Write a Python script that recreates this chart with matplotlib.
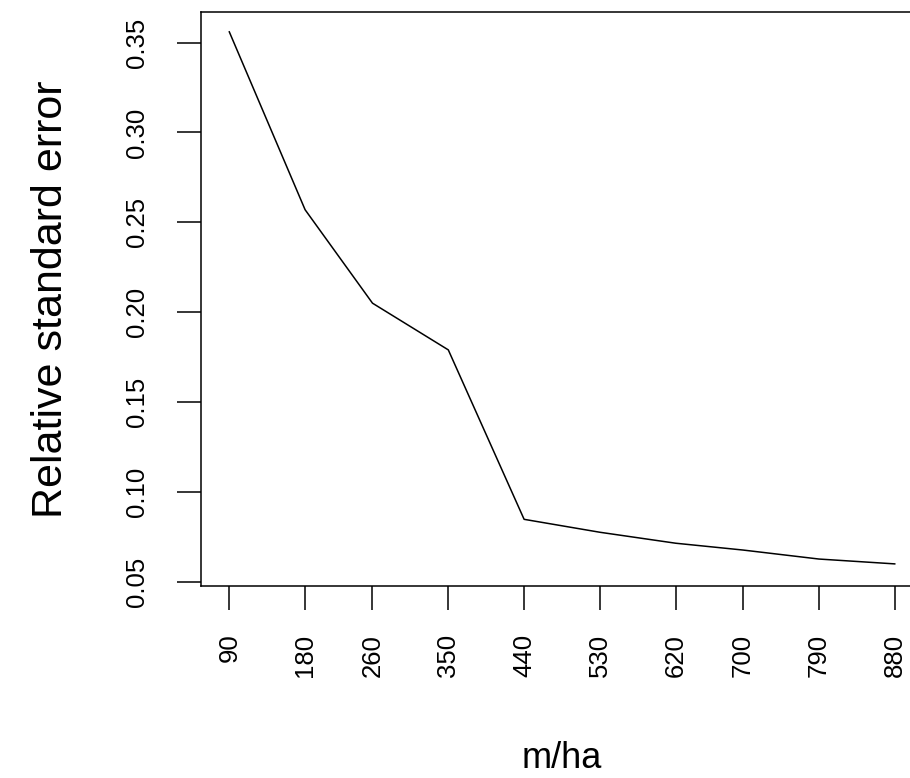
import matplotlib.pyplot as plt

plt.rcParams['font.family'] = ['Liberation Sans', 'DejaVu Sans']

# stems per hectare vs relative standard error
density = [90, 180, 260, 350, 440, 530, 620, 700, 790, 880]
rel_se = [0.356, 0.257, 0.205, 0.179, 0.0847, 0.0775, 0.0714, 0.0676, 0.0626, 0.0599]
y_ticks = [0.05, 0.10, 0.15, 0.20, 0.25, 0.30, 0.35]

fig = plt.figure(figsize=(9.1, 7.78), dpi=100)
# R-style plot region; right edge runs past the canvas like the original crop
ax = fig.add_axes([0.2205, 0.2468, 0.7942, 0.7372])

ax.plot(density, rel_se, color='black', lw=1.1)

ax.set_xlim(56, 914)
ax.set_ylim(0.0476, 0.3668)
ax.set_xticks(density)
ax.set_xticklabels([str(d) for d in density])
ax.set_yticks(y_ticks)
ax.set_yticklabels(['%.2f' % v for v in y_ticks])

for s in ax.spines.values():
    s.set_linewidth(1.1)
    s.set_color('black')

ax.tick_params(axis='both', direction='out', length=17.3, width=1.1,
               labelsize=18.5)
ax.tick_params(axis='x', labelrotation=90, pad=17)
ax.tick_params(axis='y', labelrotation=90, pad=20)
for lab in ax.get_yticklabels():
    lab.set_va('center')

ax.set_xlabel('m/ha', fontsize=26)
ax.xaxis.label.set_va('baseline')
ax.xaxis.set_label_coords(0.5, -0.3174)

ax.set_ylabel('Relative standard error', fontsize=31)
ax.yaxis.label.set_rotation_mode('anchor')
ax.yaxis.label.set_ha('center')
ax.yaxis.label.set_va('baseline')
ax.yaxis.set_label_coords(-0.192, 0.5)

plt.savefig('out.png', dpi=100)
